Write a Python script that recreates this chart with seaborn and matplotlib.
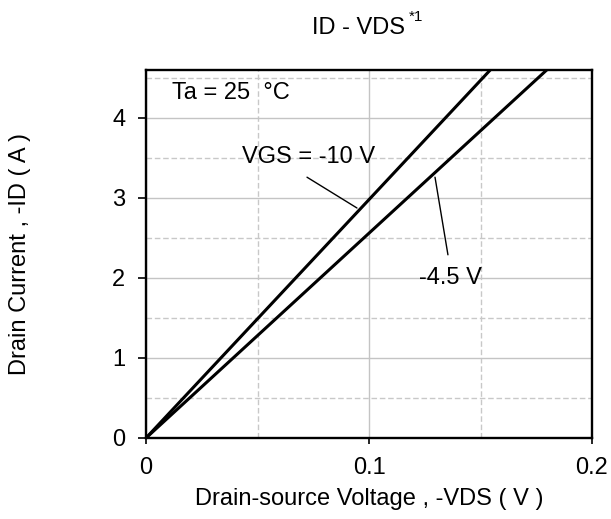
import matplotlib
matplotlib.use('Agg')
import matplotlib.pyplot as plt
from matplotlib.ticker import MultipleLocator
import seaborn as sns
import pandas as pd

# 데이터
vds = [0, 0.05, 0.1, 0.15, 0.2]
id_vgs10 = [0, 1.49, 2.98, 4.47, 5.96]
id_vgs45 = [0, 1.28, 2.56, 3.84, 5.12]
series_names = ['VGS = -10 V', '-4.5 V']
x_ticks = [0, 0.1, 0.2]
x_ticklabels = ['0', '0.1', '0.2']
y_ticks = [0, 1, 2, 3, 4]

df = pd.concat([
    pd.DataFrame({'vds': vds, 'id': id_vgs10, 'vgs': series_names[0]}),
    pd.DataFrame({'vds': vds, 'id': id_vgs45, 'vgs': series_names[1]}),
])

sns.set_theme(style='white')
plt.rcParams['font.family'] = ['Liberation Sans', 'DejaVu Sans']
plt.rcParams['text.color'] = 'black'
plt.rcParams['axes.labelcolor'] = 'black'
plt.rcParams['xtick.color'] = 'black'
plt.rcParams['ytick.color'] = 'black'
fs = 17

fig = plt.figure(figsize=(6.11, 5.19), dpi=100)
ax = fig.add_axes([146/611, 1 - 438/519, 446/611, 368/519])

sns.lineplot(data=df, x='vds', y='id', units='vgs', estimator=None,
             color='black', lw=2.2, ax=ax, legend=False, zorder=3)

ax.set_xlim(0, 0.2)
ax.set_ylim(0, 4.6)
ax.set_xticks(x_ticks)
ax.set_xticklabels(x_ticklabels)
ax.set_yticks(y_ticks)
ax.xaxis.set_minor_locator(MultipleLocator(0.05))
ax.yaxis.set_minor_locator(MultipleLocator(0.5))

ax.grid(which='major', color='#c4c4c4', lw=1.0, ls='-', zorder=0)
ax.grid(which='minor', color='#c8c8c8', lw=1.0, ls=(0, (4, 2)), zorder=0)
ax.set_axisbelow(True)

for s in ax.spines.values():
    s.set_color('black')
    s.set_linewidth(1.7)

ax.tick_params(axis='x', which='major', direction='out', length=4, width=1.2,
               color='black', labelsize=fs, pad=10, bottom=True)
ax.tick_params(axis='y', which='major', direction='out', length=6, width=1.2,
               color='black', labelsize=fs, pad=9, left=True)
ax.tick_params(which='minor', length=0)

ax.set_xlabel('Drain-source Voltage , -VDS ( V )', fontsize=fs)
ax.set_ylabel('Drain Current , -ID ( A )', fontsize=fs)
ax.xaxis.set_label_coords(0.5, -0.137)
ax.yaxis.set_label_coords(-0.258, 0.5)

# 주석
ax.text(0.0117, 4.31, 'Ta = 25  °C', fontsize=fs, ha='left', va='center')
ax.text(0.0731, 3.51, series_names[0], fontsize=fs, ha='center', va='center')
ax.text(0.1363, 2.0, series_names[1], fontsize=fs, ha='center', va='center')
ax.annotate('', xy=(0.0946, 2.875), xytext=(0.0722, 3.26),
            arrowprops=dict(arrowstyle='-', lw=1.0, color='black', shrinkA=0, shrinkB=0))
ax.annotate('', xy=(0.1296, 3.26), xytext=(0.1354, 2.29),
            arrowprops=dict(arrowstyle='-', lw=1.0, color='black', shrinkA=0, shrinkB=0))

# 제목
fig.text(312/611, 1 - 28/519, 'ID - VDS', fontsize=fs, ha='left', va='center')
fig.text(409/611, 1 - 17/519, '*1', fontsize=11, ha='left', va='center')

fig.savefig('out.png', dpi=100)
